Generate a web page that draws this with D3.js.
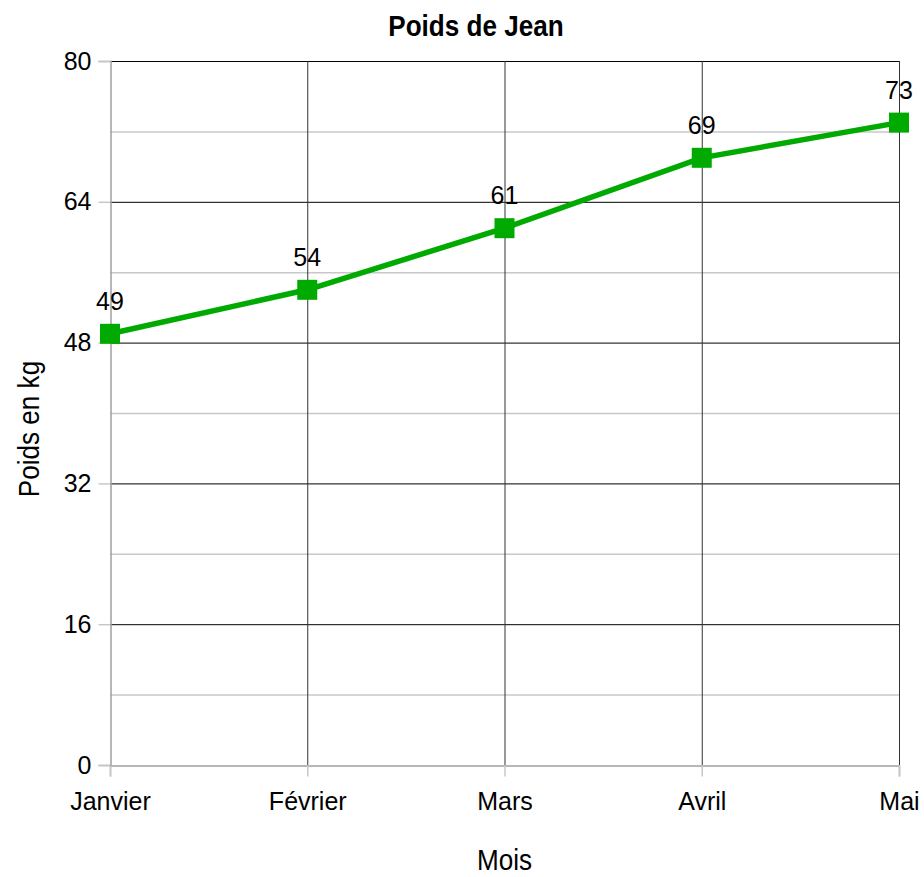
<!DOCTYPE html>
<html>
<head>
<meta charset="utf-8">
<script src="https://cdn.jsdelivr.net/npm/d3@7"></script>
<style>
  body { margin: 0; background: #fff; }
  text { font-family: "Liberation Sans", Arial, sans-serif; }
</style>
</head>
<body>
<div id="chart"></div>
<script>
var months = ["Janvier", "Février", "Mars", "Avril", "Mai"];
var poids = [49, 54, 61, 69, 73];
var yTicks = [0, 16, 32, 48, 64, 80];
var yMinor = [8, 24, 40, 56, 72];

const width = 924, height = 877;
const margin = { top: 61, right: 25, bottom: 112, left: 110 };

var svg = d3.select("#chart").append("svg")
    .attr("width", width)
    .attr("height", height);

var x = d3.scalePoint()
    .domain(months)
    .range([margin.left, width - margin.right])
    .padding(0);

var y = d3.scaleLinear()
    .domain([0, 80])
    .range([height - margin.bottom, margin.top]);

// minor gridlines
svg.append("g").selectAll("line")
    .data(yMinor)
    .enter().append("line")
    .attr("x1", margin.left).attr("x2", width - margin.right)
    .attr("y1", d => y(d) + 0.5).attr("y2", d => y(d) + 0.5)
    .attr("stroke", "#c8c8c8").attr("stroke-width", 1.5);

// major gridlines
svg.append("g").selectAll("line")
    .data(yTicks.filter(d => d > 0))
    .enter().append("line")
    .attr("x1", margin.left).attr("x2", width - margin.right)
    .attr("y1", d => y(d) + 0.5).attr("y2", d => y(d) + 0.5)
    .attr("stroke", "#000").attr("stroke-width", 1);

// vertical gridlines
svg.append("g").selectAll("line")
    .data(months.slice(1))
    .enter().append("line")
    .attr("x1", d => x(d) + 0.5).attr("x2", d => x(d) + 0.5)
    .attr("y1", margin.top).attr("y2", height - margin.bottom)
    .attr("stroke", "#333").attr("stroke-width", 1);

// axes
var yAxis = svg.append("g")
    .attr("transform", "translate(" + (margin.left + 0.5) + ",0)")
    .call(d3.axisLeft(y).tickValues(yTicks).tickSize(12).tickPadding(7));

var xAxis = svg.append("g")
    .attr("transform", "translate(0," + (height - margin.bottom + 0.5) + ")")
    .call(d3.axisBottom(x).tickSize(11).tickPadding(16));

[yAxis, xAxis].forEach(function (g) {
    g.select(".domain").attr("stroke", "#a0a0a0").attr("stroke-width", 1.5);
    g.selectAll(".tick line").attr("stroke", "#c8c8c8").attr("stroke-width", 1.5);
    g.selectAll(".tick text").attr("fill", "#000").style("font-size", "25px")
        .style("font-family", "Liberation Sans, Arial, sans-serif");
});

// line
var line = d3.line()
    .x((d, i) => x(months[i]))
    .y(d => y(d));

svg.append("path")
    .datum(poids)
    .attr("d", line)
    .attr("fill", "none")
    .attr("stroke", "#00aa00")
    .attr("stroke-width", 5.5);

svg.append("g").selectAll("rect")
    .data(poids)
    .enter().append("rect")
    .attr("x", (d, i) => x(months[i]) - 10)
    .attr("y", d => y(d) - 10)
    .attr("width", 20).attr("height", 20)
    .attr("fill", "#00aa00");

svg.append("g").selectAll("text")
    .data(poids)
    .enter().append("text")
    .attr("x", (d, i) => x(months[i]))
    .attr("y", d => y(d) - 24)
    .attr("text-anchor", "middle")
    .style("font-size", "25px")
    .text(d => d);

// titles (slightly condensed, like the original renderer)
svg.append("text")
    .attr("transform", "translate(476,36) scale(0.9,1)")
    .attr("text-anchor", "middle")
    .style("font-size", "29px").style("font-weight", "bold")
    .text("Poids de Jean");

svg.append("text")
    .attr("transform", "translate(" + ((margin.left + width - margin.right) / 2) + ",870) scale(0.9,1)")
    .attr("text-anchor", "middle")
    .style("font-size", "29px")
    .text("Mois");

svg.append("text")
    .attr("transform", "translate(39,429) rotate(-90) scale(0.9,1)")
    .attr("text-anchor", "middle")
    .style("font-size", "29px")
    .text("Poids en kg");
</script>
</body>
</html>
